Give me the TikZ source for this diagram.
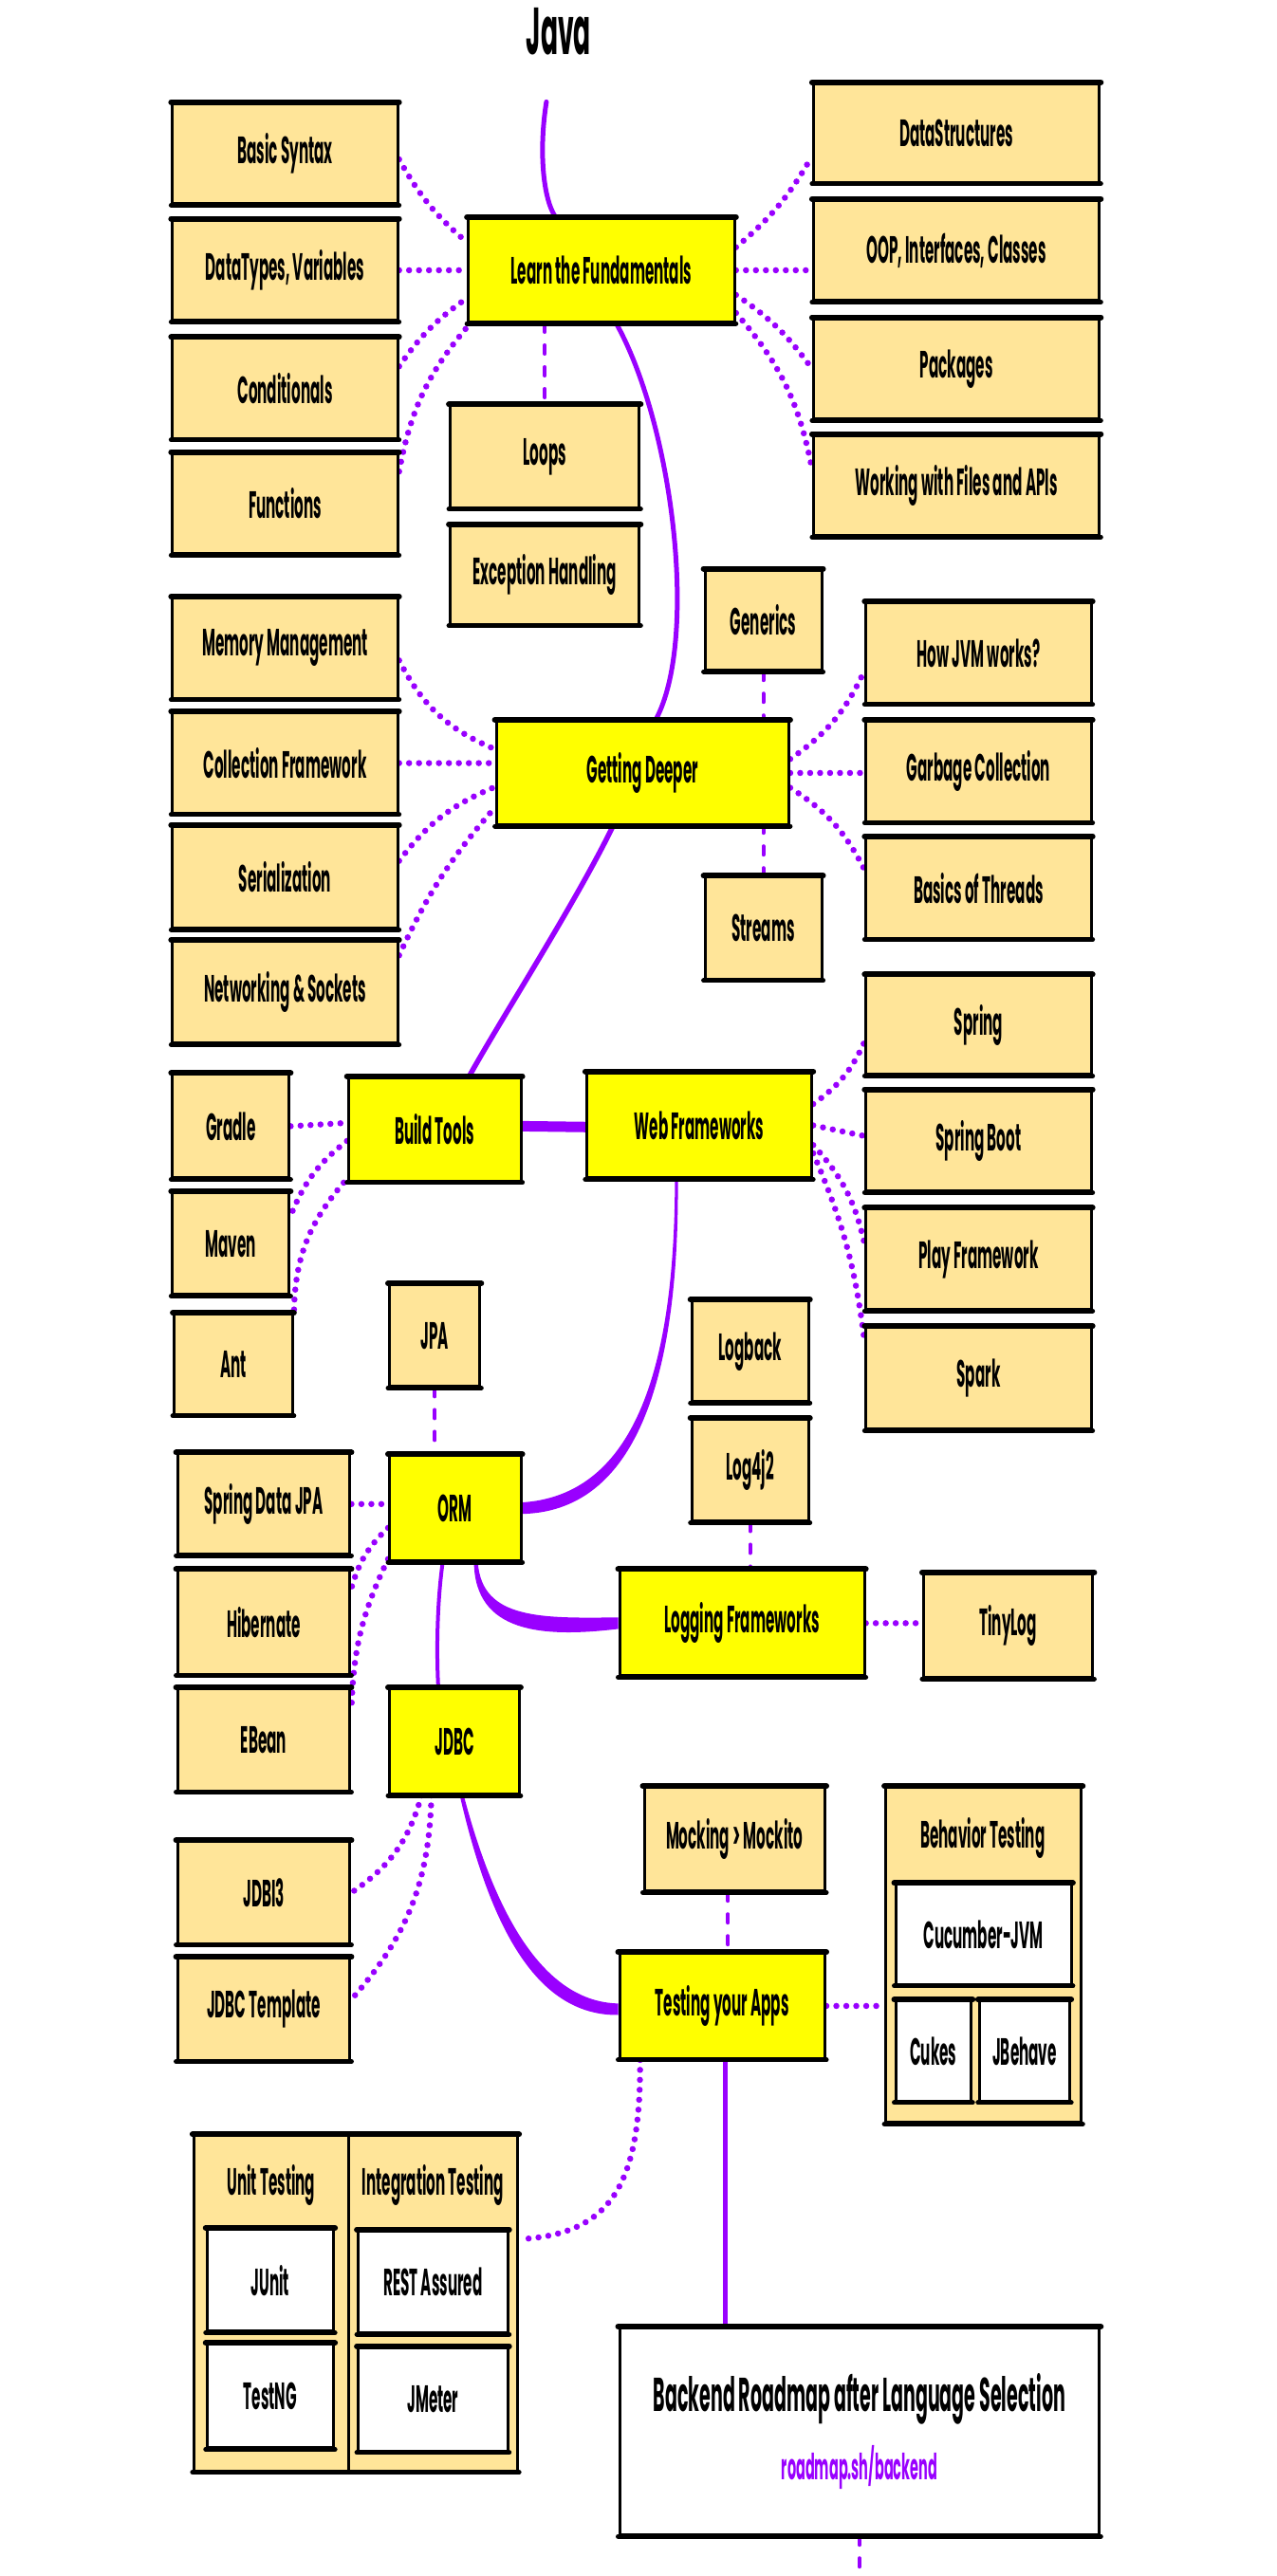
\documentclass[tikz,border=0pt]{standalone}
\usepackage{fontspec}
\setmainfont{Poppins}[FakeStretch=0.38]
\usetikzlibrary{calc}
\definecolor{pur}{HTML}{9900FF}
\definecolor{tanc}{HTML}{FFE599}
\definecolor{yel}{HTML}{FFFF00}
\newcommand\bxfont{\fontsize{40}{46}\selectfont\bfseries}
\newcommand\ttlfont{\fontsize{70}{76}\selectfont\bfseries}
\newcommand\bigfont{\fontsize{50}{56}\selectfont\bfseries}
\newcommand\urlfont{\fontsize{38}{44}\selectfont\bfseries}
\pgfdeclarelayer{back}
\pgfdeclarelayer{bg}
\pgfsetlayers{back,bg,main}
\tikzset{
  base/.style={draw=black, line width=3pt, inner sep=0pt, font=\bxfont,
    append after command={\pgfextra{\let\LN\tikzlastnode}
      (\LN.north west) edge[line width=6pt, line cap=round, draw=black] (\LN.north east)
      (\LN.south west) edge[line width=5pt, line cap=round, draw=black] (\LN.south east)}},
  tn/.style={base, fill=tanc},
  yn/.style={base, fill=yel},
  wn/.style={base, fill=white},
  ttl/.style={font=\bxfont, inner sep=0pt},
  sol/.style={draw=pur, line width=5pt, line cap=round},
  dot/.style={draw=pur, line width=6.5pt, line cap=round, dash pattern=on 0pt off 10.5pt},
  dsh/.style={draw=pur, line width=4pt, line cap=round, dash pattern=on 9pt off 14pt},
}
% \bx{style}{name}{x1}{y1}{x2}{y2}{text}
\newcommand\bx[7]{%
  \pgfmathsetmacro\bxcx{(#3+#5)/2}%
  \pgfmathsetmacro\bxcy{(#4+#6)/2}%
  \pgfmathsetmacro\bxw{(#5-#3)*1.7323}%
  \pgfmathsetmacro\bxh{(#6-#4)*1.7323}%
  \node[#1, minimum width=\bxw pt, minimum height=\bxh pt] (#2) at (\bxcx,\bxcy) {#7};}
\begin{document}
\begin{tikzpicture}[x=1.7323pt, y=-1.7323pt]
\begin{pgfonlayer}{back}
\fill[white] (0,0) rectangle (777,1568);
\end{pgfonlayer}
\useasboundingbox (0,0) rectangle (777,1568);

\node[font=\ttlfont, inner sep=0pt] (java) at (340,19) {Java};
\coordinate (jv) at (332.5,62);

% Fundamentals
\bx{tn}{bs}{105}{63}{242}{124}{Basic Syntax}
\bx{tn}{dt}{105}{134}{242}{195}{DataTypes, Variables}
\bx{tn}{cond}{105}{206}{242}{267}{Conditionals}
\bx{tn}{func}{105}{276}{242}{337}{Functions}
\bx{yn}{learn}{285}{133}{447}{196}{Learn the Fundamentals}
\bx{tn}{ds}{495}{51}{669}{111}{DataStructures}
\bx{tn}{oop}{495}{122}{669}{183}{OOP, Interfaces, Classes}
\bx{tn}{pkg}{495}{194}{669}{255}{Packages}
\bx{tn}{files}{495}{265}{669}{326}{Working with Files and APIs}
\bx{tn}{loops}{274}{247}{389}{309}{Loops}
\bx{tn}{exc}{274}{320}{389}{380}{Exception Handling}

% Getting deeper
\bx{tn}{gen}{429}{347}{500}{408}{Generics}
\bx{tn}{jvm}{527}{367}{664}{428}{How JVM works?}
\bx{tn}{gc}{527}{439}{664}{500}{Garbage Collection}
\bx{tn}{thr}{527}{510}{664}{571}{Basics of Threads}
\bx{tn}{mem}{105}{364}{242}{425}{Memory Management}
\bx{tn}{coll}{105}{434}{242}{495}{Collection Framework}
\bx{tn}{ser}{105}{503}{242}{565}{Serialization}
\bx{tn}{net}{105}{573}{242}{635}{Networking \& Sockets}
\bx{yn}{gd}{302}{439}{480}{502}{Getting Deeper}
\bx{tn}{streams}{429}{534}{500}{596}{Streams}

% Build tools / web frameworks
\bx{yn}{bt}{212}{656}{317}{719}{Build Tools}
\bx{yn}{wf}{357}{653}{494}{717}{Web Frameworks}
\bx{tn}{gradle}{105}{654}{176}{717}{Gradle}
\bx{tn}{maven}{105}{726}{176}{788}{Maven}
\bx{tn}{ant}{106}{800}{178}{861}{Ant}
\bx{tn}{spring}{527}{594}{664}{654}{Spring}
\bx{tn}{sb}{527}{664}{664}{725}{Spring Boot}
\bx{tn}{play}{527}{736}{664}{797}{Play Framework}
\bx{tn}{spark}{527}{808}{664}{870}{Spark}

% ORM / logging
\bx{tn}{jpa}{237}{782}{292}{844}{JPA}
\bx{tn}{logback}{421}{792}{492}{853}{Logback}
\bx{tn}{log4j}{421}{864}{492}{926}{Log4j2}
\bx{yn}{orm}{237}{886}{317}{950}{ORM}
\bx{tn}{sdjpa}{108}{885}{213}{946}{Spring Data JPA}
\bx{tn}{hib}{108}{956}{213}{1019}{Hibernate}
\bx{tn}{ebean}{108}{1028}{213}{1090}{EBean}
\bx{yn}{jdbc}{237}{1028}{316}{1092}{JDBC}
\bx{yn}{lf}{377}{956}{526}{1020}{Logging Frameworks}
\bx{tn}{tiny}{562}{958}{665}{1021}{TinyLog}
\bx{tn}{jdbi}{108}{1121}{213}{1183}{JDBI3}
\bx{tn}{tmpl}{108}{1192}{213}{1254}{JDBC Template}

% Testing
\bx{tn}{mock}{392}{1088}{502}{1151}{Mocking > Mockito}
\bx{yn}{test}{377}{1189}{502}{1253}{Testing your Apps}
\bx{tn}{bgrp}{539}{1088}{658}{1292}{}
\node[ttl] (bgt) at (598,1119) {Behavior Testing};
\bx{wn}{cuc}{545}{1147}{652}{1208}{Cucumber-JVM}
\bx{wn}{cukes}{545}{1218}{591}{1279}{Cukes}
\bx{wn}{jbeh}{596}{1218}{651}{1279}{JBehave}
\bx{tn}{ugrp}{118}{1300}{212}{1504}{}
\bx{tn}{igrp}{212}{1300}{315}{1504}{}
\node[ttl] (ut) at (165,1330) {Unit Testing};
\node[ttl] (it) at (263.5,1330) {Integration Testing};
\bx{wn}{junit}{126}{1357}{203}{1419}{JUnit}
\bx{wn}{testng}{126}{1427}{203}{1490}{TestNG}
\bx{wn}{rest}{218}{1358}{309}{1420}{REST Assured}
\bx{wn}{jmeter}{218}{1429}{309}{1492}{JMeter}

% Backend
\bx{wn}{bk}{377}{1417}{669}{1543}{}
\node[font=\bigfont, inner sep=0pt] (bkt) at (523,1460) {Backend Roadmap after Language Selection};
\node[font=\urlfont, text=pur, inner sep=0pt] (bku) at (523,1502) {roadmap.sh/backend};
\coordinate (bend) at (523,1572);

\begin{pgfonlayer}{bg}
% fundamentals
\draw[sol] (jv) .. controls (328,90) and (330,120) .. ($(learn.north)+(-28,0)$);
\draw[dot] ($(bs.east)+(0,3.5)$) to[bend right=10] ($(learn.west)+(0,-17)$);
\draw[dot] (dt.east) -- (dt.east -| learn.west);
\draw[dot] ($(cond.east)+(0,-13.5)$) to[bend left=10] ($(learn.west)+(0,17)$);
\draw[dot] ($(func.east)+(0,-19.5)$) to[bend left=15] ($(learn.south west)+(2,0)$);
\draw[dot] ($(learn.east)+(0,-14)$) to[bend right=10] ($(ds.west)+(0,14)$);
\draw[dot] (learn.east) -- ($(oop.west)+(0,12)$);
\draw[dot] ($(learn.east)+(0,15)$) to[bend left=10] (pkg.west);
\draw[dot] ($(learn.east)+(0,26)$) to[bend left=15] ($(files.west)+(0,-10)$);
\draw[dsh] (loops.north |- learn.south) -- (loops.north);
\draw[sol] ($(learn.south)+(9,0)$) .. controls (410,260) and (425,390) .. ($(gd.north)+(8,0)$);
% deeper
\draw[dot] ($(mem.east)+(0,7.5)$) to[bend right=20] ($(gd.west)+(0,-14.5)$);
\draw[dot] (coll.east) -- ($(gd.west)+(0,-6)$);
\draw[dot] ($(ser.east)+(0,-10)$) to[bend left=15] ($(gd.west)+(0,8.5)$);
\draw[dot] ($(net.east)+(0,-22.5)$) to[bend left=8] ($(gd.west)+(0,21)$);
\draw[dot] ($(gd.east)+(0,-8.5)$) to[bend right=15] ($(jvm.west)+(0,10.5)$);
\draw[dot] (gd.east) -- (gd.east -| gc.west);
\draw[dot] ($(gd.east)+(0,9)$) to[bend left=15] ($(thr.west)+(0,-11)$);
\draw[dsh] (gen.south) -- (streams.north);
\draw[sol, line width=5.5pt] ($(gd.south)+(-18,0)$) .. controls (350,550) and (305,620) .. ($(bt.north)+(21,0)$);
% build tools / web
\draw[sol, line width=11pt, line cap=butt] ($(bt.east)+(0,-2)$) -- ($(wf.west)+(0,1)$);
\draw[dot] (gradle.east) -- ($(bt.west)+(0,-4)$);
\draw[dot] ($(bt.west)+(0,7)$) to[bend right=15] ($(maven.east)+(0,-17)$);
\draw[dot] ($(bt.south west)+(-2,0)$) to[bend right=20] ($(ant.east)+(0,-30)$);
\draw[dot] ($(wf.east)+(0,-13)$) to[bend right=15] ($(spring.west)+(0,10)$);
\draw[dot] (wf.east) -- ($(sb.west)+(0,-3)$);
\draw[dot] ($(wf.east)+(0,12)$) to[bend left=15] ($(play.west)+(0,-9)$);
\draw[dot] ($(wf.east)+(0,17)$) to[bend left=8] ($(spark.west)+(0,-22)$);
\fill[pur] ($(wf.south)+(-14.8,0)$) .. controls (410.6,850) and (378,910.5) .. ($(orm.east)+(0,-3.5)$)
   -- ($(orm.east)+(0,3.5)$) .. controls (382,920) and (413.4,850) .. ($(wf.south)+(-13,0)$) -- cycle;
% orm
\draw[dsh] (jpa.south) -- (jpa.south |- orm.north);
\draw[dot] (sdjpa.east) -- (sdjpa.east -| orm.west);
\draw[dot] ($(orm.west)+(0,12)$) to[bend right=15] ($(hib.east)+(0,-21)$);
\draw[dot] ($(orm.west)+(0,31)$) to[bend right=12] ($(ebean.east)+(0,-18)$);
\fill[pur] ($(orm.south)+(13.8,0)$) .. controls (293,986) and (330,985) .. ($(lf.west)+(0,-3.5)$)
   -- ($(lf.west)+(0,3.5)$) .. controls (330,997) and (289,994) .. ($(orm.south)+(11.4,0)$) -- cycle;
\draw[sol, line width=4pt] ($(orm.south)+(-7.6,0)$) .. controls (266,975) and (265.5,1005) .. ($(jdbc.north)+(-9.8,0)$);
\draw[dsh] (log4j.south) -- (log4j.south |- lf.north);
\draw[dot] (lf.east) -- (lf.east -| tiny.west);
% jdbc
\draw[dot] ($(jdbc.south)+(-20,0)$) to[bend left=20] (jdbi.east);
\draw[dot] ($(jdbc.south)+(-14,0)$) to[bend left=20] ($(tmpl.east)+(0,-6)$);
\fill[pur] ($(jdbc.south)+(5.7,0)$) .. controls (302,1168) and (332,1218.5) .. ($(test.west)+(0,-1.5)$)
   -- ($(test.west)+(0,5.5)$) .. controls (326,1227) and (298,1172) .. ($(jdbc.south)+(3.3,0)$) -- cycle;
% testing
\draw[dsh] ($(mock.south)+(-4,0)$) coordinate (m1) -- (m1 |- test.north);
\draw[dot] (test.east) -- (test.east -| bgrp.west);
\draw[dot] ($(test.south)+(-50,0)$) .. controls (390,1330) and (372,1360) .. ($(igrp.east)+(0,-39)$);
\draw[sol] ($(test.south)+(2,0)$) coordinate (tb) -- (tb |- bk.north);
\draw[dsh] (bk.south) -- (bend);
\end{pgfonlayer}
\end{tikzpicture}
\end{document}
